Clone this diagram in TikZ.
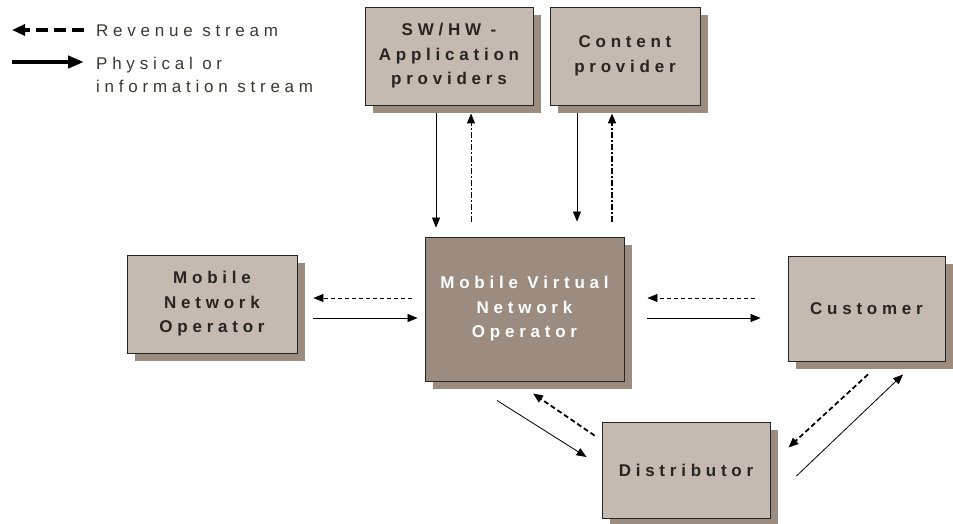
\documentclass[tikz,border=0pt]{standalone}
\usepackage{fontspec}
\setmainfont{Liberation Sans}
\newfontfamily\spacedfont[LetterSpace=28]{Liberation Sans}
\usepackage{xcolor}
\definecolor{boxlight}{RGB}{196, 186, 178}
\definecolor{boxdark}{RGB}{156, 140, 127}
\definecolor{boxtext}{RGB}{40, 36, 33}
\definecolor{legtext}{RGB}{60, 56, 52}
\usepackage{tikz}
\usetikzlibrary{positioning, arrows.meta, shadows}

\begin{document}
\begin{tikzpicture}[x=1pt, y=-1pt,
  actor/.style={draw=black!85, line width=0.9pt, fill=boxlight, align=center,
    text=boxtext, font=\spacedfont\bfseries\fontsize{17}{24.5}\selectfont,
    inner sep=0pt,
    drop shadow={shadow xshift=8pt, shadow yshift=-8pt, fill=boxdark, opacity=1}},
  flow/.style={-{Triangle[length=10pt, width=8pt]}, line width=0.8pt},
  revenue/.style={-{Triangle[length=10pt, width=8pt]}, line width=1pt, dash pattern=on 5pt off 3pt},
  legtxt/.style={anchor=west, text=legtext, font=\spacedfont\fontsize{17}{23}\selectfont, align=left, inner sep=0pt}]
  \useasboundingbox (0,0) rectangle (953,523);

  % Legend
  \coordinate (revA) at (84,30);
  \coordinate (revB) at (12,30);
  \coordinate (phyA) at (12,62);
  \coordinate (phyB) at (84,62);
  \draw[-{Triangle[length=13pt, width=11pt]}, line width=4pt, dash pattern=on 12pt off 6pt] (revA) -- (revB);
  \draw[-{Triangle[length=16pt, width=12pt]}, line width=4.5pt] (phyA) -- (phyB);
  \node[legtxt] (revtxt) at (96,31) {Revenue stream};
  \node[legtxt] (phytxt) at (96,74.5) {Physical or\\information stream};

  % Boxes
  \node[actor, minimum width=168pt, minimum height=98pt] (swhw) at (449,56) {SW/HW -\\Application\\providers};
  \node[actor, minimum width=150pt, minimum height=98pt] (content) at (625,56) {Content\\provider};
  \node[actor, minimum width=199pt, minimum height=144pt, fill=boxdark, text=white] (mvno) at (524.5,309) {Mobile Virtual\\Network\\Operator};
  \node[actor, minimum width=170pt, minimum height=98pt] (mno) at (212,304) {Mobile\\Network\\Operator};
  \node[actor, minimum width=157pt, minimum height=105pt] (customer) at (866.5,308.5) {Customer};
  \node[actor, minimum width=168pt, minimum height=96pt] (distrib) at (686,470) {Distributor};

  % Providers <-> MVNO
  \draw[flow] ([xshift=-13pt, yshift=-8pt]swhw.south) -- ([xshift=-88.5pt, yshift=9pt]mvno.north);
  \draw[revenue, dash pattern=on 6pt off 2pt on 2pt off 2pt] ([xshift=-53.5pt, yshift=15pt]mvno.north) -- ([xshift=22pt, yshift=-8pt]swhw.south);
  \draw[flow] ([xshift=-48pt, yshift=-8pt]content.south) -- ([xshift=52.5pt, yshift=15pt]mvno.north);
  \draw[revenue, line width=1.8pt, dash pattern=on 6pt off 2pt on 2pt off 2pt] ([xshift=87.5pt, yshift=15pt]mvno.north) -- ([xshift=-13pt, yshift=-8pt]content.south);

  % MNO <-> MVNO
  \draw[revenue, line width=0.8pt, dash pattern=on 4pt off 3pt] ([xshift=-13pt, yshift=11pt]mvno.west) -- ([xshift=16pt, yshift=6pt]mno.east);
  \draw[flow] ([xshift=16pt, yshift=-14pt]mno.east) -- ([xshift=-7pt, yshift=-9pt]mvno.west);

  % MVNO <-> Customer
  \draw[revenue, line width=0.8pt, dash pattern=on 4pt off 3pt] ([xshift=-33pt, yshift=10.5pt]customer.west) -- ([xshift=23pt, yshift=11pt]mvno.east);
  \draw[flow] ([xshift=23pt, yshift=-9pt]mvno.east) -- ([xshift=-27pt, yshift=-9.5pt]customer.west);

  % Distributor
  \draw[flow] ([xshift=-27.5pt, yshift=-19pt]mvno.south) -- ([xshift=-15pt, yshift=13pt]distrib.west);
  \draw[revenue, line width=1.8pt] ([xshift=-7pt, yshift=-14pt]distrib.north west) -- ([xshift=8.5pt, yshift=-12pt]mvno.south);
  \draw[revenue, line width=1.8pt] ([xshift=1.5pt, yshift=-13pt]customer.south) -- ([xshift=18pt, yshift=-26pt]distrib.north east);
  \draw[flow] ([xshift=26pt, yshift=-6pt]distrib.east) -- ([xshift=36.5pt, yshift=-13pt]customer.south);
\end{tikzpicture}
\end{document}
